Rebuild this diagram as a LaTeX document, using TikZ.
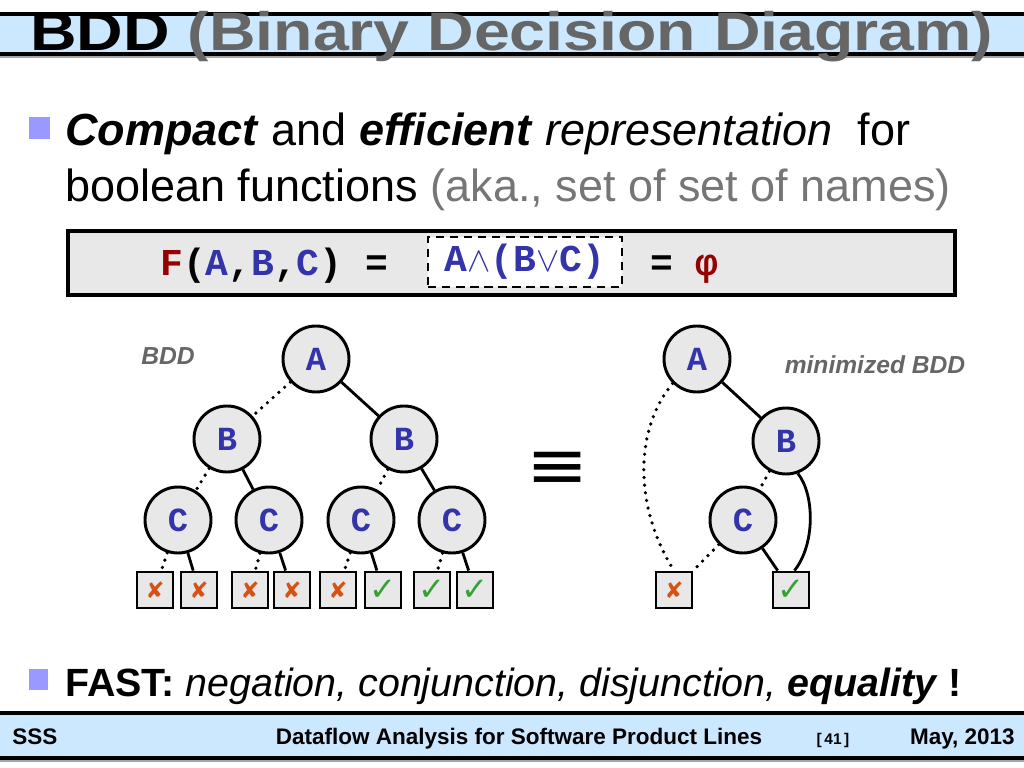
\documentclass[tikz,border=0pt]{standalone}
\usepackage{fontspec}
\setmainfont{Liberation Sans}
\newfontfamily\codefont{Liberation Mono}
\newfontfamily\symbfont{DejaVu Sans}
\definecolor{bandblue}{RGB}{204,232,255}
\definecolor{headgray}{RGB}{102,102,102}
\definecolor{akagray}{RGB}{118,118,118}
\definecolor{bulletblue}{RGB}{153,153,255}
\definecolor{boxgray}{RGB}{232,232,232}
\definecolor{varblue}{RGB}{51,51,170}
\definecolor{fred}{RGB}{150,0,0}
\definecolor{crossred}{RGB}{215,80,20}
\definecolor{tickgreen}{RGB}{55,160,55}
\tikzset{
  bddvar/.style={circle, draw, line width=2.1pt, fill=boxgray, minimum size=1.65cm, inner sep=0pt,
    font=\codefont\bfseries\fontsize{24}{24}\selectfont, text=varblue},
  bddleaf/.style={rectangle, draw, line width=2pt, fill=boxgray, minimum size=0.9cm, inner sep=0pt},
  nocross/.style={bddleaf, text=crossred, font=\symbfont\fontsize{16}{16}\selectfont},
  yestick/.style={bddleaf, text=tickgreen, font=\symbfont\fontsize{23}{23}\selectfont},
  loedge/.style={line width=2.6pt, dash pattern=on 0pt off 5.5pt, line cap=round},
  hiedge/.style={line width=2pt},
}
\begin{document}
\begin{tikzpicture}[x=0.025cm, y=-0.025cm]
  \useasboundingbox (0,0) rectangle (1024,768);
  % title band
  \fill[black] (0,12) rectangle (1024,56);
  \fill[bandblue] (0,16) rectangle (1024,52);
  \fill[black!35] (0,56) rectangle (1024,58);
  \node[anchor=base west, xscale=1.19, inner sep=0pt, font=\bfseries\fontsize{38.5}{40}\selectfont] (title) at (30,51)
    {BDD \textcolor{headgray}{(Binary Decision Diagram)}};
  % bullet text
  \fill[bulletblue] (29,117) rectangle (50,139);
  \node[anchor=base west, inner sep=0pt, font=\fontsize{32}{38}\selectfont] (compact) at (65,146)
    {\textbf{\textit{Compact}} and \textbf{\textit{efficient}} \textit{representation}\ \ for};
  \node[anchor=base west, inner sep=0pt, font=\fontsize{32}{38}\selectfont] (boolean) at (65,201)
    {boolean functions \textcolor{akagray}{(aka., set of set of names)}};
  % formula
  \draw[line width=2.2pt, fill=boxgray] (68,231) rectangle (955,295);
  \node[anchor=base west, inner sep=0pt, font=\codefont\bfseries\fontsize{27}{27}\selectfont] (lhs) at (160,275)
    {\textcolor{fred}{F}(\textcolor{varblue}{A},\textcolor{varblue}{B},\textcolor{varblue}{C}) =};
  \node[draw, fill=white, line width=1.8pt, dash pattern=on 6pt off 4pt, minimum width=4.85cm, minimum height=1.25cm,
    font=\codefont\bfseries\fontsize{27}{27}\selectfont, text=varblue] (conj) at (525,262) {A$\wedge$(B$\vee$C)};
  \node[anchor=base west, inner sep=0pt, font=\codefont\bfseries\fontsize{27}{27}\selectfont] (rhs) at (650,275)
    {= \textcolor{fred}{φ}};
  % full BDD
  \node[font=\bfseries\itshape\fontsize{17.5}{20}\selectfont, text=headgray] (bddlabel) at (168,356) {BDD};
  \node[bddvar] (A) at (316,359) {A};
  \node[bddvar] (B1) at (227,439) {B};
  \node[bddvar] (B2) at (404,439) {B};
  \node[bddvar] (C1) at (178,520) {C};
  \node[bddvar] (C2) at (269,520) {C};
  \node[bddvar] (C3) at (361,520) {C};
  \node[bddvar] (C4) at (452,520) {C};
  \node[nocross] (L1) at (155,590) {✘};
  \node[nocross] (L2) at (199,590) {✘};
  \node[nocross] (L3) at (250,590) {✘};
  \node[nocross] (L4) at (292,590) {✘};
  \node[nocross] (L5) at (338,590) {✘};
  \node[yestick] (L6) at (383,590) {✓};
  \node[yestick] (L7) at (432,590) {✓};
  \node[yestick] (L8) at (475,590) {✓};
  \draw[loedge] (A) -- (B1);
  \draw[hiedge] (A) -- (B2);
  \draw[loedge] (B1) -- (C1);
  \draw[hiedge] (B1) -- (C2);
  \draw[loedge] (B2) -- (C3);
  \draw[hiedge] (B2) -- (C4);
  \draw[loedge] (C1) -- (L1);
  \draw[hiedge] (C1) -- (L2);
  \draw[loedge] (C2) -- (L3);
  \draw[hiedge] (C2) -- (L4);
  \draw[loedge] (C3) -- (L5);
  \draw[hiedge] (C3) -- (L6);
  \draw[loedge] (C4) -- (L7);
  \draw[hiedge] (C4) -- (L8);
  \node[xscale=1.1, font=\symbfont\fontsize{48}{48}\selectfont] (equiv) at (558,470) {≡};
  % minimized BDD
  \node[font=\bfseries\itshape\fontsize{17.5}{20}\selectfont, text=headgray] (minlabel) at (875,365) {minimized BDD};
  \node[bddvar] (mA) at (697,359) {A};
  \node[bddvar] (mB) at (786,441) {B};
  \node[bddvar] (mC) at (743,520) {C};
  \node[nocross] (mF) at (674,590) {✘};
  \node[yestick] (mT) at (791,590) {✓};
  \draw[hiedge] (mA) -- (mB);
  \draw[loedge] (mB) -- (mC);
  \draw[loedge] (mC) -- (mF);
  \draw[hiedge] (mC) -- (mT);
  \draw[loedge] (mA.225) .. controls (634,430) and (634,507) .. (mF.north);
  \draw[hiedge] (mB.290) .. controls (815,495) and (815,545) .. (mT.80);
  % last bullet
  \fill[bulletblue] (29,669) rectangle (48,690);
  \node[anchor=base west, inner sep=0pt, font=\fontsize{28}{34}\selectfont] (fast) at (65,696)
    {\textbf{FAST:} \textit{negation, conjunction, disjunction,} \textbf{\textit{equality}} \textbf{!}};
  % footer band
  \fill[black] (0,711) rectangle (1024,760);
  \fill[bandblue] (0,715) rectangle (1024,756);
  \fill[black!35] (0,760) rectangle (1024,762);
  \node[anchor=base west, inner sep=0pt, font=\bfseries\fontsize{16}{18}\selectfont] (author) at (12,744) {SSS};
  \node[anchor=base, inner sep=0pt, font=\bfseries\fontsize{16}{18}\selectfont] (talk) at (519,744)
    {Dataflow Analysis for Software Product Lines};
  \node[anchor=base, inner sep=0pt, font=\bfseries\fontsize{11}{13}\selectfont] (page) at (833,744) {[\,41\,]};
  \node[anchor=base east, inner sep=0pt, font=\bfseries\fontsize{16}{18}\selectfont] (date) at (1015,744) {May, 2013};
\end{tikzpicture}
\end{document}
